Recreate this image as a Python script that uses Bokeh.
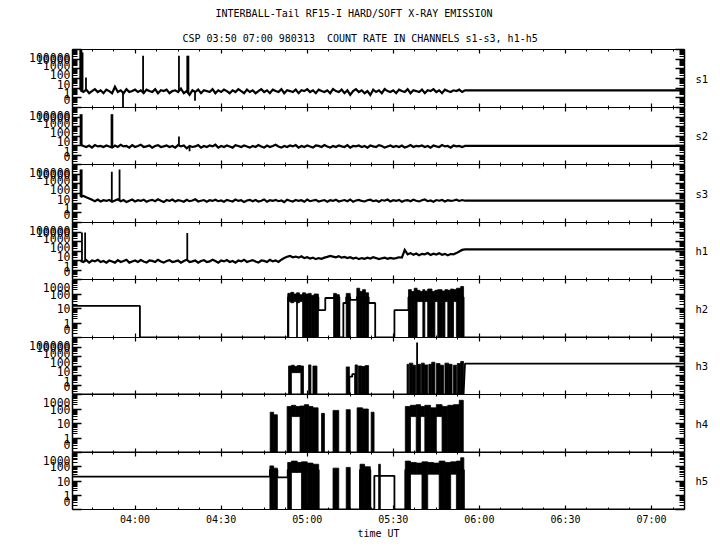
import numpy as np
from bokeh.plotting import figure
from bokeh.layouts import column
from bokeh.models import FixedTicker, LogAxis, LinearAxis, Title, Range1d
from bokeh.embed import file_html
from bokeh.resources import INLINE

FONT = "DejaVu Sans Mono"

TITLE = "INTERBALL-Tail RF15-I HARD/SOFT X-RAY EMISSION"
SUBTITLE = "CSP 03:50 07:00 980313\u00a0 COUNT RATE IN CHANNELS s1-s3, h1-h5"
X_LABEL = "time UT"

# time in minutes after 03:00 UT
X_MIN, X_MAX = 38.2, 251.5
time_ticks = [60, 90, 120, 150, 180, 210, 240]
time_labels = ["04:00", "04:30", "05:00", "05:30", "06:00", "06:30", "07:00"]
time_minor = [45, 52.5, 67.5, 75, 82.5, 97.5, 105, 112.5, 127.5, 135, 142.5,
              157.5, 165, 172.5, 187.5, 195, 202.5, 217.5, 225, 232.5, 247.5]

wide_ticks = [0.1, 1, 10, 100, 1000, 10000, 100000]
wide_labels = ["0", "1", "10", "100", "1000", "10000", "100000"]
narrow_ticks = [0.1, 1, 10, 100, 1000]
narrow_labels = ["0", "1", "10", "100", "1000"]
ZERO = 0.1          # where a count of 0 is drawn (the "0" tick)
TAIL_T = 260        # last value is held to the right edge

# ---- soft channels and h1: one sample per minute from 03:41 ----
GRID_T0 = 41
s1_v = [6,4,7,3,5,8,4,6,3,7, 5,3,14,4,6,3,8,4,5,7, 4,6,3,7,5,4,8,3,6,5,
        7,3,5,6,4,9,3,5,2,6, 4,7,3,6,5,4,8,3,6,4, 7,5,3,6,4,8,5,3,7,4,
        6,3,5,8,4,6,3,7,5,4, 8,3,6,5,4,7,3,6,5,8, 4,6,3,7,5,4,6,3,8,5,
        4,7,3,6,2,5,8,4,6,3, 5,2,7,4,6,3,8,5,4,6, 3,7,5,4,8,3,6,5,4,7,
        3,6,5,8,4,6,3,7,5,4, 6,5,7,4,6]
s1_spike_t = [40.9, 41.3, 41.7, 42.9, 55.8, 62.8, 75.3, 78.2, 78.6, 80.9]
s1_spike_v = [1e5, 1e5, 5e4, 130, 0, 2.3e4, 2.3e4, 2.3e4, 2.3e4, 0.5]

s2_v = [12,9,7,10,6,11,8,9,7,10, 8,6,10,7,12,8,9,6,11,7, 9,12,7,8,10,6,9,11,7,8,
        10,7,9,6,11,8,10,5,9,7, 8,11,6,9,7,10,8,12,6,9, 7,10,8,6,11,9,7,10,8,6,
        9,7,11,8,6,10,7,9,12,8, 6,9,7,10,8,11,6,9,7,10, 8,6,10,9,7,11,8,6,9,7,
        10,8,7,11,6,9,8,10,7,9, 6,10,8,7,11,9,6,8,10,7, 9,7,10,6,8,11,7,9,8,10,
        7,9,6,10,8,7,11,8,9,6, 10,8,9,7,9]
s2_spike_t = [41.0, 41.4, 51.8, 52.1, 75.3, 79.0]
s2_spike_v = [2e4, 2e4, 2e4, 2e4, 90, 2.5]

s3_v = [45,55,40,30,22,16,24,15,20,17, 22,14,19,25,16,21,13,18,24,15,
        20,17,23,14,19,22,16,25,18,13, 21,17,24,15,20,18,14,22,16,19,
        25,15,18,21,14,20,17,23,16,19, 14,22,18,15,24,17,20,13,19,22,
        16,21,15,18,24,14,20,17,22,16, 19,13,23,18,15,21,17,20,14,24,
        16,19,22,15,18,21,14,20,17,23, 15,18,21,16,24,14,19,22,17,15,
        20,23,16,19,14,21,18,24,15,20, 17,22,14,19,21,16,23,18,15,20,
        24,16,19,14,21,18,22,15,20,17, 19,23,17,21,18]
s3_spike_t = [41.0, 41.4, 51.9, 54.6]
s3_spike_v = [3e4, 3e4, 1.8e4, 3e4]

h1_v = [9,7,11,6,10,8,12,7,9,6, 10,8,6,11,7,9,12,6,8,10, 7,11,8,6,10,9,7,12,8,6,
        9,11,7,8,10,6,9,12,7,8, 10,6,9,11,7,8,12,9,6,10, 8,11,7,9,6,10,8,12,7,9,
        11,8,6,10,9,7,12,8,10,7, 12,18,25,30,22,26,20,28,18,22,
        16,20,14,18,15,20,24,30,26,22, 28,20,24,18,22,16,20,14,18,15,
        20,16,22,18,14,17,20,15,19,16, 18,22,20,130,45,60,40,55,35,50,
        45,60,38,52,42,58,40,50,36,48, 45,60,90,130,150]
h1_spike_t = [41.5, 42.6, 78.2]
h1_spike_v = [8700, 8700, 8000]

# ---- hard channels: step outline + dense (rapidly varying) intervals ----
h2_t = [38, 61.7, 61.7, 113.3, 113.3, 123.9, 123.9, 126.3, 126.3, 129.2, 129.2, 131.2,
        131.2, 132.6, 132.6, 133.6, 133.6, 135.0, 135.0, 137.3, 137.3, 141.4, 141.4,
        143.7, 143.7, 150.4, 150.4, 155.3, 155.3, 174.5, 174.5, TAIL_T]
h2_v = [15, 15, 0, 0, 60, 60, 7.8, 7.8, 53, 53, 60, 60, 0, 0, 24, 24, 60, 60, 39, 39,
        60, 60, 24, 24, 0, 0, 7.8, 7.8, 60, 60, 0, 0]
h2_q_l = [113.3, 114.3, 115.3, 116.3, 117.3, 113.3, 116.3, 118.4, 119.4, 120.4, 121.4, 122.4,
          129.2, 130.2, 133.6, 137.3, 138.3, 139.3, 140.3,
          155.3, 156.3, 157.3, 158.3, 159.3, 160.3, 161.0, 162.0, 163.5, 164.5, 165.5, 167.0,
          168.0, 169.0, 170.0, 171.0, 172.0, 173.5]
h2_q_r = [114.3, 115.3, 116.3, 117.3, 118.4, 113.6, 116.6, 119.4, 120.4, 121.4, 122.4, 123.9,
          130.2, 131.2, 135.0, 138.3, 139.3, 140.3, 141.4,
          156.3, 157.3, 158.3, 159.3, 160.3, 161.0, 162.0, 163.5, 164.5, 165.5, 167.0, 168.0,
          169.0, 170.0, 171.0, 172.0, 173.5, 174.5]
h2_q_b = [30, 25, 30, 25, 30, 0, 0, 0, 0, 0, 0, 0,
          0, 0, 0, 0, 0, 0, 0,
          0, 0, 0, 30, 30, 0, 30, 0, 0, 30, 0, 0, 30, 0, 0, 30, 0, 0]
h2_q_t = [110, 130, 100, 120, 90, 110, 100, 120, 100, 110, 80, 100,
          110, 90, 110, 250, 150, 200, 120,
          200, 150, 250, 180, 150, 200, 160, 220, 150, 180, 200, 160, 200, 180, 220, 200, 250, 330]

h3_t = [38, 134.7, 134.7, 135.7, 135.7, 136.7, 136.7, 174.5, 175.0, TAIL_T]
h3_v = [0, 0, 7.6, 7.6, 14, 14, 0, 0, 180, 180]
h3_spike_t = [158.3]
h3_spike_v = [2.9e4]
h3_q_l = [113.5, 114.5, 115.5, 116.5, 117.8, 120.5, 122.0, 133.6, 136.7, 137.8, 139.0, 140.2,
          154.8, 155.6, 156.8, 158.3, 159.8, 160.8, 162.4, 163.4, 165.0, 166.3, 168.0, 169.3,
          171.0, 172.3, 173.5]
h3_q_r = [114.5, 115.5, 116.5, 117.8, 118.7, 121.3, 123.4, 134.7, 137.5, 139.0, 140.2, 141.4,
          155.3, 156.8, 157.8, 159.5, 160.8, 162.0, 163.4, 164.5, 166.3, 167.5, 169.3, 170.5,
          172.0, 173.5, 174.5]
h3_q_b = [0, 20, 20, 20, 0, 0, 0, 0, 0, 0, 0, 0,
          0, 0, 0, 0, 0, 0, 0, 0, 0, 0, 0, 0, 0, 0, 0]
h3_q_t = [100, 120, 90, 110, 100, 130, 100, 80, 130, 100, 90, 110,
          150, 200, 120, 150, 200, 130, 150, 250, 180, 120, 200, 150, 120, 180, 300]

h4_t = [38, TAIL_T]
h4_v = [0, 0]
h4_q_l = [107.1, 108.3, 113.0, 114.5, 116.0, 117.5, 119.0, 120.5, 122.0, 125.0, 129.0, 133.6,
          137.4, 139.3, 142.3, 154.2, 156.0, 158.0, 159.5, 161.0, 163.0, 165.0, 167.0, 169.0,
          171.0, 173.0]
h4_q_r = [108.3, 109.6, 114.5, 116.0, 117.5, 119.0, 120.5, 122.0, 123.8, 126.0, 131.0, 135.0,
          139.3, 141.3, 143.3, 156.0, 158.0, 159.5, 161.0, 163.0, 165.0, 167.0, 169.0, 171.0,
          173.0, 174.4]
h4_q_b = [0, 0, 0, 30, 30, 0, 0, 0, 0, 0, 0, 0, 0, 0, 0, 0, 30, 0, 30, 0, 0, 30, 0, 0, 0, 0]
h4_q_t = [60, 40, 150, 180, 150, 160, 200, 150, 120, 50, 80, 90, 120, 100, 60,
          150, 180, 200, 150, 180, 120, 200, 150, 180, 200, 400]

h5_t = [38, 107.0, 107.0, 109.6, 109.6, 113.2, 113.2, 124.0, 124.0, 138.4, 138.4, 142.0,
        142.0, 143.4, 143.4, 150.4, 150.4, 154.2, 154.2, 174.6, 174.6, TAIL_T]
h5_v = [20, 20, 60, 60, 18, 18, 60, 60, 0, 0, 60, 60, 0, 0, 23, 23, 0, 0, 60, 60, 0, 0]
h5_q_l = [107.0, 108.3, 113.2, 114.5, 116.5, 118.0, 120.0, 122.0, 129.0, 133.6, 138.4, 140.0,
          144.9, 154.2, 156.0, 158.0, 160.0, 162.0, 164.0, 166.0, 168.0, 170.0, 172.0, 173.5]
h5_q_r = [108.3, 109.6, 114.5, 116.5, 118.0, 120.0, 122.0, 124.0, 131.0, 135.0, 140.0, 142.0,
          145.5, 156.0, 158.0, 160.0, 162.0, 164.0, 166.0, 168.0, 170.0, 172.0, 173.5, 174.6]
h5_q_b = [0, 0, 0, 40, 40, 0, 0, 0, 0, 0, 0, 0, 0, 0, 30, 30, 0, 30, 30, 0, 0, 30, 0, 0]
h5_q_t = [115, 80, 200, 250, 200, 220, 180, 150, 80, 90, 150, 100, 150,
          250, 200, 180, 220, 200, 180, 250, 200, 220, 250, 430]


def zpos(v):
    a = np.asarray(v, dtype=float)
    return np.where(a <= 0, ZERO, a)


def minor_for(ticks):
    return [m * d for d in ticks[:-1] for m in range(2, 10)]


# where each tick label sits relative to its tick (decades); keeps the end
# labels inside the panel, as in the original plot
LABEL_SHIFT = {6: [0.8, 0.4, 0.4, 0.4, 0.3, 0.0, -0.8],
               4: [0.53, 0.0, 0.0, 0.0, -0.53]}

xr = Range1d(X_MIN, X_MAX)
LW = 1.8
LW_NOISE = 2.2


def hide_labels(ax):
    ax.major_label_text_color = None
    ax.major_label_standoff = 0


def make_panel(name, ticks, labels, frame_h, first=False, last=False):
    p = figure(frame_width=612, frame_height=frame_h, x_range=xr,
               y_range=Range1d(ticks[0], ticks[-1]), y_axis_type="log",
               x_axis_location=None, y_axis_location=None,
               output_backend="svg", toolbar_location=None,
               min_border_left=72, min_border_right=36,
               min_border_top=49 if first else 0,
               min_border_bottom=0)
    p.grid.visible = False
    p.outline_line_color = None
    yt = FixedTicker(ticks=ticks, minor_ticks=minor_for(ticks))
    # tick marks (left and right)
    for side in ("left", "right"):
        ax = LogAxis(ticker=yt, major_tick_in=9, major_tick_out=0,
                     minor_tick_in=5, minor_tick_out=0,
                     axis_line_width=1.5, major_tick_line_width=1.5,
                     minor_tick_line_width=1.2)
        hide_labels(ax)
        if side == "right":
            ax.axis_label = name
            ax.axis_label_text_font = FONT
            ax.axis_label_text_font_size = "10.5px"
            ax.axis_label_text_font_style = "normal"
            ax.axis_label_text_color = "black"
            ax.axis_label_standoff = 11
            try:
                ax.axis_label_orientation = "horizontal"
            except Exception:
                pass
        p.add_layout(ax, side)
    # tick labels
    shifts = LABEL_SHIFT[len(ticks) - 1]
    pos = [t * 10 ** s for t, s in zip(ticks, shifts)]
    lab = LogAxis(ticker=FixedTicker(ticks=pos, minor_ticks=[]),
                  major_tick_in=0, major_tick_out=0, minor_tick_in=0, minor_tick_out=0,
                  axis_line_color=None, major_tick_line_color=None,
                  major_label_overrides=dict(zip(pos, labels)),
                  major_label_text_font=FONT, major_label_text_font_size="11.5px",
                  major_label_text_color="black", major_label_standoff=2)
    p.add_layout(lab, "left")

    xt = FixedTicker(ticks=time_ticks, minor_ticks=time_minor)
    for side in ("above", "below"):
        ax = LinearAxis(ticker=xt, major_tick_in=4, major_tick_out=0,
                        minor_tick_in=2, minor_tick_out=0,
                        axis_line_width=1.2, major_tick_line_width=1.2)
        if side == "below" and last:
            ax.major_label_overrides = dict(zip(time_ticks, time_labels))
            ax.major_label_text_font = FONT
            ax.major_label_text_font_size = "10px"
            ax.major_label_text_color = "black"
            ax.major_label_standoff = 4
            ax.axis_label = X_LABEL
            ax.axis_label_text_font = FONT
            ax.axis_label_text_font_size = "10px"
            ax.axis_label_text_font_style = "normal"
            ax.axis_label_text_color = "black"
            ax.axis_label_standoff = 0
        else:
            hide_labels(ax)
        p.add_layout(ax, side)
    if first:
        p.add_layout(Title(text=SUBTITLE, align="left", offset=110, text_font=FONT,
                           text_font_size="10px", text_font_style="normal",
                           text_color="black", standoff=12), "above")
        p.add_layout(Title(text=TITLE, align="left", offset=143, text_font=FONT,
                           text_font_size="10px", text_font_style="normal",
                           text_color="black", standoff=11), "above")
    return p


def draw_grid_series(p, v, st, sv):
    t = GRID_T0 + np.arange(len(v), dtype=float)
    t = np.append(t, TAIL_T)
    vv = np.append(np.asarray(v, float), v[-1])
    p.line(t, zpos(vv), color="black", line_width=LW_NOISE, line_join="miter")
    base = np.interp(st, t, vv)
    p.segment(x0=st, y0=zpos(base), x1=st, y1=zpos(sv), color="black", line_width=LW)


def draw_hard(p, t, v, ql, qr, qb, qt, st=None, sv=None):
    p.quad(left=ql, right=qr, bottom=zpos(qb), top=zpos(qt), fill_color="black",
           line_color="black", line_width=0.8)
    p.line(t, zpos(v), color="black", line_width=LW)
    if st:
        base = np.interp(st, t, v)
        p.segment(x0=st, y0=zpos(base), x1=st, y1=zpos(sv), color="black", line_width=LW)


heights = [58, 57, 58, 57, 58, 57, 58, 57]
p1 = make_panel("s1", wide_ticks, wide_labels, heights[0], first=True)
draw_grid_series(p1, s1_v, s1_spike_t, s1_spike_v)
p2 = make_panel("s2", wide_ticks, wide_labels, heights[1])
draw_grid_series(p2, s2_v, s2_spike_t, s2_spike_v)
p3 = make_panel("s3", wide_ticks, wide_labels, heights[2])
draw_grid_series(p3, s3_v, s3_spike_t, s3_spike_v)
p4 = make_panel("h1", wide_ticks, wide_labels, heights[3])
draw_grid_series(p4, h1_v, h1_spike_t, h1_spike_v)
p5 = make_panel("h2", narrow_ticks, narrow_labels, heights[4])
draw_hard(p5, h2_t, h2_v, h2_q_l, h2_q_r, h2_q_b, h2_q_t)
p6 = make_panel("h3", wide_ticks, wide_labels, heights[5])
draw_hard(p6, h3_t, h3_v, h3_q_l, h3_q_r, h3_q_b, h3_q_t, h3_spike_t, h3_spike_v)
p7 = make_panel("h4", narrow_ticks, narrow_labels, heights[6])
draw_hard(p7, h4_t, h4_v, h4_q_l, h4_q_r, h4_q_b, h4_q_t)
p8 = make_panel("h5", narrow_ticks, narrow_labels, heights[7], last=True)
draw_hard(p8, h5_t, h5_v, h5_q_l, h5_q_r, h5_q_b, h5_q_t)

layout = column(p1, p2, p3, p4, p5, p6, p7, p8, spacing=0)
open("out.html", "w").write(file_html(layout, INLINE))
